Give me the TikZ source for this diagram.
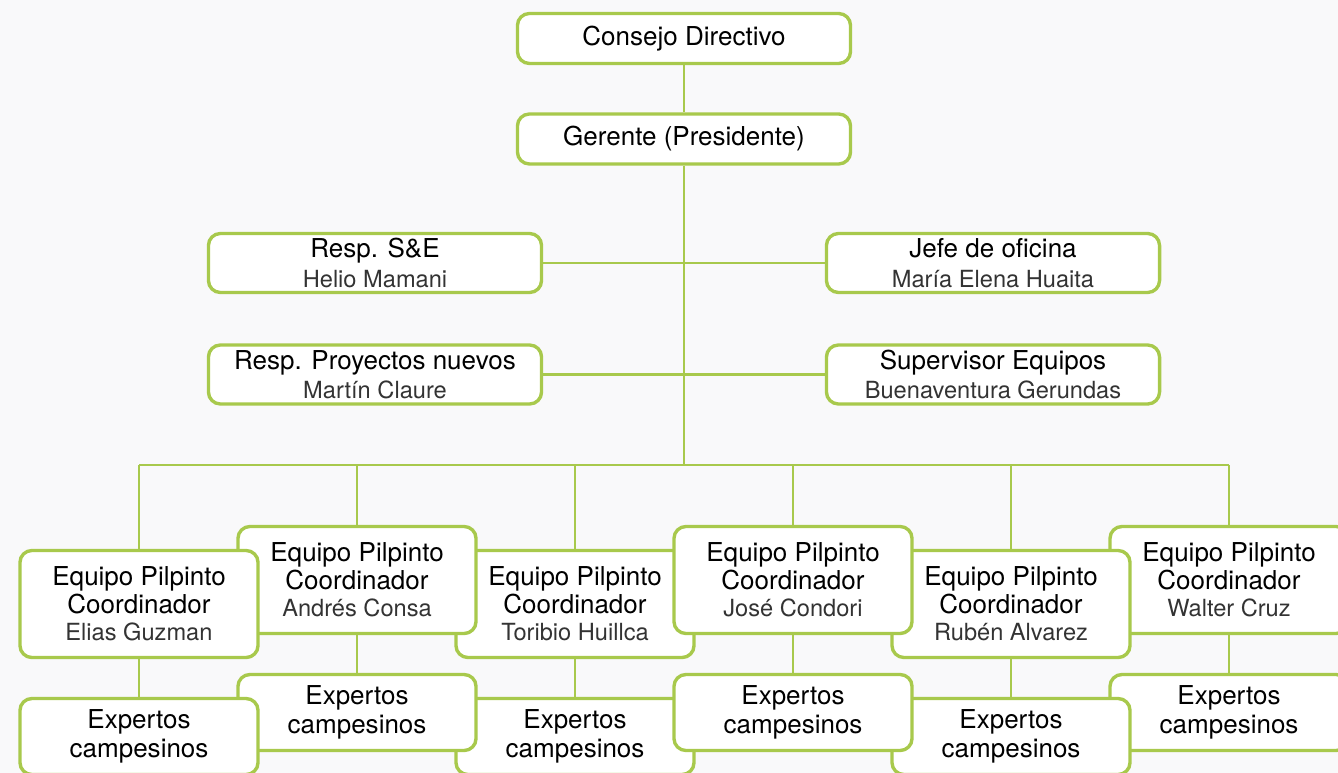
\documentclass[tikz,border=0pt]{standalone}
\usepackage{fontspec}
\setmainfont{TeX Gyre Heros}
\usetikzlibrary{positioning,backgrounds}
\definecolor{verde}{RGB}{168,201,76}
\definecolor{fondo}{RGB}{249,249,250}
\newcommand{\nom}[1]{{\fontsize{16.8}{20}\selectfont\color{black!80}#1}}
\pgfdeclarelayer{fondo}
\pgfsetlayers{fondo,background,main}

\begin{document}
\begin{tikzpicture}[x=0.025cm,y=-0.025cm,
  box/.style={draw=verde, line width=2.4pt, fill=white, rounded corners=8.5pt,
              align=center, font=\fontsize{18.5}{21}\selectfont, inner sep=2pt},
  top/.style={box, minimum width=8.325cm, minimum height=1.25cm},
  cargo/.style={box, minimum width=8.325cm, minimum height=1.475cm},
  coord/.style={box, minimum width=5.95cm, minimum height=2.675cm,
                font=\fontsize{18.5}{19.5}\selectfont},
  exp/.style={box, minimum width=5.95cm, minimum height=1.9cm,
              font=\fontsize{18.5}{20.5}\selectfont},
  ln/.style={draw=verde, line width=1.5pt}]
\useasboundingbox (0,0) rectangle (1338,773);
\begin{pgfonlayer}{fondo}
  \fill[fondo] (0,0) rectangle (1338,773);
\end{pgfonlayer}

% direccion
\node[top] (cd)  at (684,38.5) {Consejo Directivo};
\node[top] (ger) at (684,139) {Gerente (Presidente)};
\node[cargo] (se)  at (375,263) {Resp. S\&E\\\nom{Helio Mamani}};
\node[cargo] (jef) at (993,263) {Jefe de oficina\\\nom{María Elena Huaita}};
\node[cargo] (pn)  at (375,374.5) {Resp. Proyectos nuevos\\\nom{Martín Claure}};
\node[cargo] (sup) at (993,374.5) {Supervisor Equipos\\\nom{Buenaventura Gerundas}};
\coordinate (bus) at (684,465);

% equipos (orden de dibujo = solapes)
\node[coord] (c6) at (1229,580) {Equipo Pilpinto\\Coordinador\\\nom{Walter Cruz}};
\node[coord] (c5) at (1011,604) {Equipo Pilpinto\\Coordinador\\\nom{Rubén Alvarez}};
\node[coord] (c3) at (575,604)  {Equipo Pilpinto\\Coordinador\\\nom{Toribio Huillca}};
\node[coord] (c4) at (793,580)  {Equipo Pilpinto\\Coordinador\\\nom{José Condori}};
\node[coord] (c2) at (357,580)  {Equipo Pilpinto\\Coordinador\\\nom{Andrés Consa}};
\node[coord] (c1) at (139,604)  {Equipo Pilpinto\\Coordinador\\\nom{Elias Guzman}};

\node[exp] (e6) at (1229,712.5) {Expertos\\campesinos};
\node[exp] (e5) at (1011,736.5) {Expertos\\campesinos};
\node[exp] (e3) at (575,736.5)  {Expertos\\campesinos};
\node[exp] (e4) at (793,712.5)  {Expertos\\campesinos};
\node[exp] (e2) at (357,712.5)  {Expertos\\campesinos};
\node[exp] (e1) at (139,736.5)  {Expertos\\campesinos};

% lineas
\begin{pgfonlayer}{background}
  \draw[ln] (cd) -- (ger) -- (bus);
  \draw[ln] (se) -- (jef);
  \draw[ln] (pn) -- (sup);
  \draw[ln] (c1 |- bus) -- (c6 |- bus);
  \foreach \i in {1,...,6}
    \draw[ln] (c\i |- bus) -- (c\i) -- (e\i);
\end{pgfonlayer}
\end{tikzpicture}
\end{document}
